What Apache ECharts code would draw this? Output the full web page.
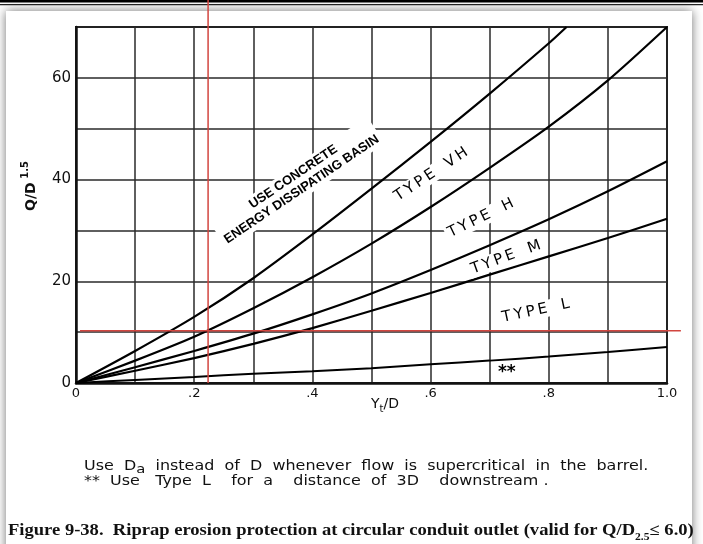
<!DOCTYPE html>
<html><head><meta charset="utf-8">
<script src="https://cdn.jsdelivr.net/npm/echarts/dist/echarts.min.js"></script>
<style>html,body{margin:0;padding:0;background:#fff}#c{width:703px;height:544px}</style>
</head><body><div id="c"></div>
<script>
// ---- data ----
const ytD = [0, 0.1, 0.2, 0.3, 0.4, 0.5, 0.6, 0.7, 0.8, 0.9, 1.0];
const concreteX = [0, 0.1, 0.2, 0.3, 0.4, 0.5, 0.6, 0.7, 0.8, 0.83];
const concreteY = [0, 6.3, 13.0, 20.6, 29.2, 38.2, 47.4, 56.9, 66.8, 70];
const vhHBoundary = [0, 4.4, 9.1, 14.7, 20.8, 27.4, 34.6, 42.3, 50.4, 59.5, 70];
const hMBoundary = [0, 3.1, 6.3, 9.7, 13.5, 17.6, 22.2, 27.1, 32.2, 37.7, 43.6];
const mLBoundary = [0, 2.4, 4.9, 7.7, 10.8, 14.2, 17.7, 21.3, 24.9, 28.5, 32.3];
const lowLBoundary = [0, 0.6, 1.2, 1.8, 2.3, 2.9, 3.7, 4.4, 5.2, 6.1, 7.1];
const xTickLabels = {0: '0', 2: '.2', 4: '.4', 6: '.6', 8: '.8', 10: '1.0'};
const yTickLabels = {0: '0', 20: '20', 40: '40', 60: '60'};
const redGuide = {yt: 0.2235, q: 10.25};
const regionLabels = [
  {text: 'USE CONCRETE\nENERGY DISSIPATING BASIN', at: [0.3747, 39.3], angle: 34, kind: 'bold'},
  {text: 'T\u2009Y\u2009P\u2009E   V\u2009H', at: [0.601, 41.0], angle: 33.5, kind: 'type'},
  {text: 'T\u2009Y\u2009P\u2009E   H', at: [0.685, 32.4], angle: 26, kind: 'type'},
  {text: 'T\u2009Y\u2009P\u2009E   M', at: [0.7275, 24.7], angle: 20, kind: 'type'},
  {text: 'T\u2009Y\u2009P\u2009E   L', at: [0.778, 14.2], angle: 12, kind: 'type'},
  {text: '**', at: [0.729, 2.1], angle: 0, kind: 'star'}
];

function pts(xs, ys) { return xs.map((x, i) => [x, ys[i]]); }

const chart = echarts.init(document.getElementById('c'), null, {renderer: 'canvas'});
const mk = (data, w) => ({type: 'line', data, smooth: 0.25, showSymbol: false, silent: true,
  lineStyle: {color: '#000', width: w || 2.2}, z: 3});

chart.setOption({
  animation: false,
  backgroundColor: 'transparent',
  grid: {left: 76, right: 36, top: 27, bottom: 161, show: true, borderColor: '#111', borderWidth: 2, backgroundColor: 'transparent'},
  xAxis: {
    type: 'value', min: 0, max: 1, interval: 0.1,
    axisLine: {show: true, lineStyle: {color: '#111', width: 2.5}},
    axisTick: {show: false},
    splitLine: {show: true, lineStyle: {color: '#2a2a2a', width: 1.5}},
    axisLabel: {
      margin: 4, color: '#111', fontFamily: 'DejaVu Sans', fontSize: 13,
      formatter: v => { const k = Math.round(v * 10); return xTickLabels[k] !== undefined ? xTickLabels[k] : ''; }
    }
  },
  yAxis: {
    type: 'value', min: 0, max: 70, interval: 10,
    axisLine: {show: true, lineStyle: {color: '#111', width: 2.5}},
    axisTick: {show: false},
    splitLine: {show: true, lineStyle: {color: '#2a2a2a', width: 1.5}},
    axisLabel: {
      margin: 5, color: '#111', fontFamily: 'DejaVu Sans', fontSize: 15,
      formatter: v => { const k = Math.round(v); return yTickLabels[k] !== undefined ? yTickLabels[k] : ''; }
    }
  },
  series: [
    mk(pts(concreteX, concreteY)),
    mk(pts(ytD, vhHBoundary)),
    mk(pts(ytD, hMBoundary)),
    mk(pts(ytD, mLBoundary)),
    mk(pts(ytD, lowLBoundary), 2.0)
  ]
});

const P = (x, y) => chart.convertToPixel({gridIndex: 0}, [x, y]);
const g = [];
// page frame with shadow
g.push({type: 'rect', z: -100, shape: {x: 6, y: 11, width: 686, height: 545},
  style: {fill: '#fff', shadowBlur: 10, shadowColor: 'rgba(0,0,0,0.55)'}});
g.push({type: 'line', z: -90, shape: {x1: 0, y1: 1.2, x2: 703, y2: 1.2}, style: {stroke: '#000', lineWidth: 2.4}});
g.push({type: 'line', z: -90, shape: {x1: 0, y1: 4.6, x2: 703, y2: 4.6}, style: {stroke: '#222', lineWidth: 1.2}});

// region labels
const labelFonts = {
  bold: {fontFamily: 'Liberation Sans', fontWeight: 'bold', fontSize: 13, lineHeight: 15, backgroundColor: '#fff'},
  type: {fontFamily: 'DejaVu Sans', fontWeight: 'normal', fontSize: 15, lineHeight: 15, backgroundColor: '#fff'},
  star: {fontFamily: 'DejaVu Sans', fontWeight: 'bold', fontSize: 17, lineHeight: 15, backgroundColor: null}
};
regionLabels.forEach(l => {
  const p = P(l.at[0], l.at[1]);
  const f = labelFonts[l.kind];
  g.push({type: 'text', z: 20, x: p[0], y: p[1], rotation: l.angle * Math.PI / 180,
    style: Object.assign({text: l.text, align: 'center', verticalAlign: 'middle', fill: '#000', padding: [1, 3]}, f)});
});

// axis titles
g.push({type: 'text', z: 20, x: 385, y: 404,
  style: {text: '{n|Y}{s|t}{n|/D}', align: 'center', verticalAlign: 'middle',
    rich: {n: {fontFamily: 'DejaVu Sans', fontSize: 14, lineHeight: 20, verticalAlign: 'middle', fill: '#111'},
           s: {fontFamily: 'DejaVu Sans', fontSize: 10, lineHeight: 20, verticalAlign: 'bottom', fill: '#111'}}}});
g.push({type: 'text', z: 20, x: 31, y: 186, rotation: Math.PI / 2,
  style: {text: '{n|Q/D}{s| 1.5}', align: 'center', verticalAlign: 'middle',
    rich: {n: {fontFamily: 'DejaVu Sans', fontSize: 14, fontWeight: 'bold', lineHeight: 22, verticalAlign: 'middle', fill: '#111'},
           s: {fontFamily: 'DejaVu Sans', fontSize: 10, fontWeight: 'bold', lineHeight: 22, verticalAlign: 'top', fill: '#111'}}}});

// red guide lines
const rv0 = P(redGuide.yt, 0);
g.push({type: 'line', z: 30, shape: {x1: rv0[0], y1: 0, x2: rv0[0], y2: rv0[1]}, style: {stroke: '#d2453f', lineWidth: 1.5}});
const rh0 = P(0.0068, redGuide.q), rh1 = P(1.0235, redGuide.q);
g.push({type: 'line', z: 30, shape: {x1: rh0[0], y1: rh0[1], x2: rh1[0], y2: rh1[1]}, style: {stroke: '#d2453f', lineWidth: 1.5}});

// notes
g.push({type: 'text', z: 20, x: 84, y: 466, scaleX: 1.14,
  style: {text: '{n|Use  D}{s|a}{n|  instead  of  D  whenever  flow  is  supercritical  in  the  barrel.}', align: 'left', verticalAlign: 'middle',
    rich: {n: {fontFamily: 'DejaVu Sans', fontSize: 14, lineHeight: 20, verticalAlign: 'middle', fill: '#111'},
           s: {fontFamily: 'DejaVu Sans', fontSize: 13, lineHeight: 20, verticalAlign: 'bottom', fill: '#111'}}}});
g.push({type: 'text', z: 20, x: 84, y: 481, scaleX: 1.14,
  style: {text: '**  Use   Type  L    for  a    distance  of  3D    downstream .', align: 'left', verticalAlign: 'middle',
    fontFamily: 'DejaVu Sans', fontSize: 14, fill: '#111'}});

// caption
g.push({type: 'text', z: 20, x: 8, y: 531, scaleX: 1.16,
  style: {text: '{b|Figure 9-38.  Riprap erosion protection at circular conduit outlet (valid for Q/D}{s|2.5}{b|\u2264 6.0)}', align: 'left', verticalAlign: 'middle',
    rich: {b: {fontFamily: 'Liberation Serif', fontWeight: 'bold', fontSize: 16, lineHeight: 22, verticalAlign: 'middle', fill: '#111'},
           s: {fontFamily: 'Liberation Serif', fontWeight: 'bold', fontSize: 10, lineHeight: 22, verticalAlign: 'bottom', fill: '#111'}}}});

chart.setOption({graphic: g});
</script>
</body></html>
